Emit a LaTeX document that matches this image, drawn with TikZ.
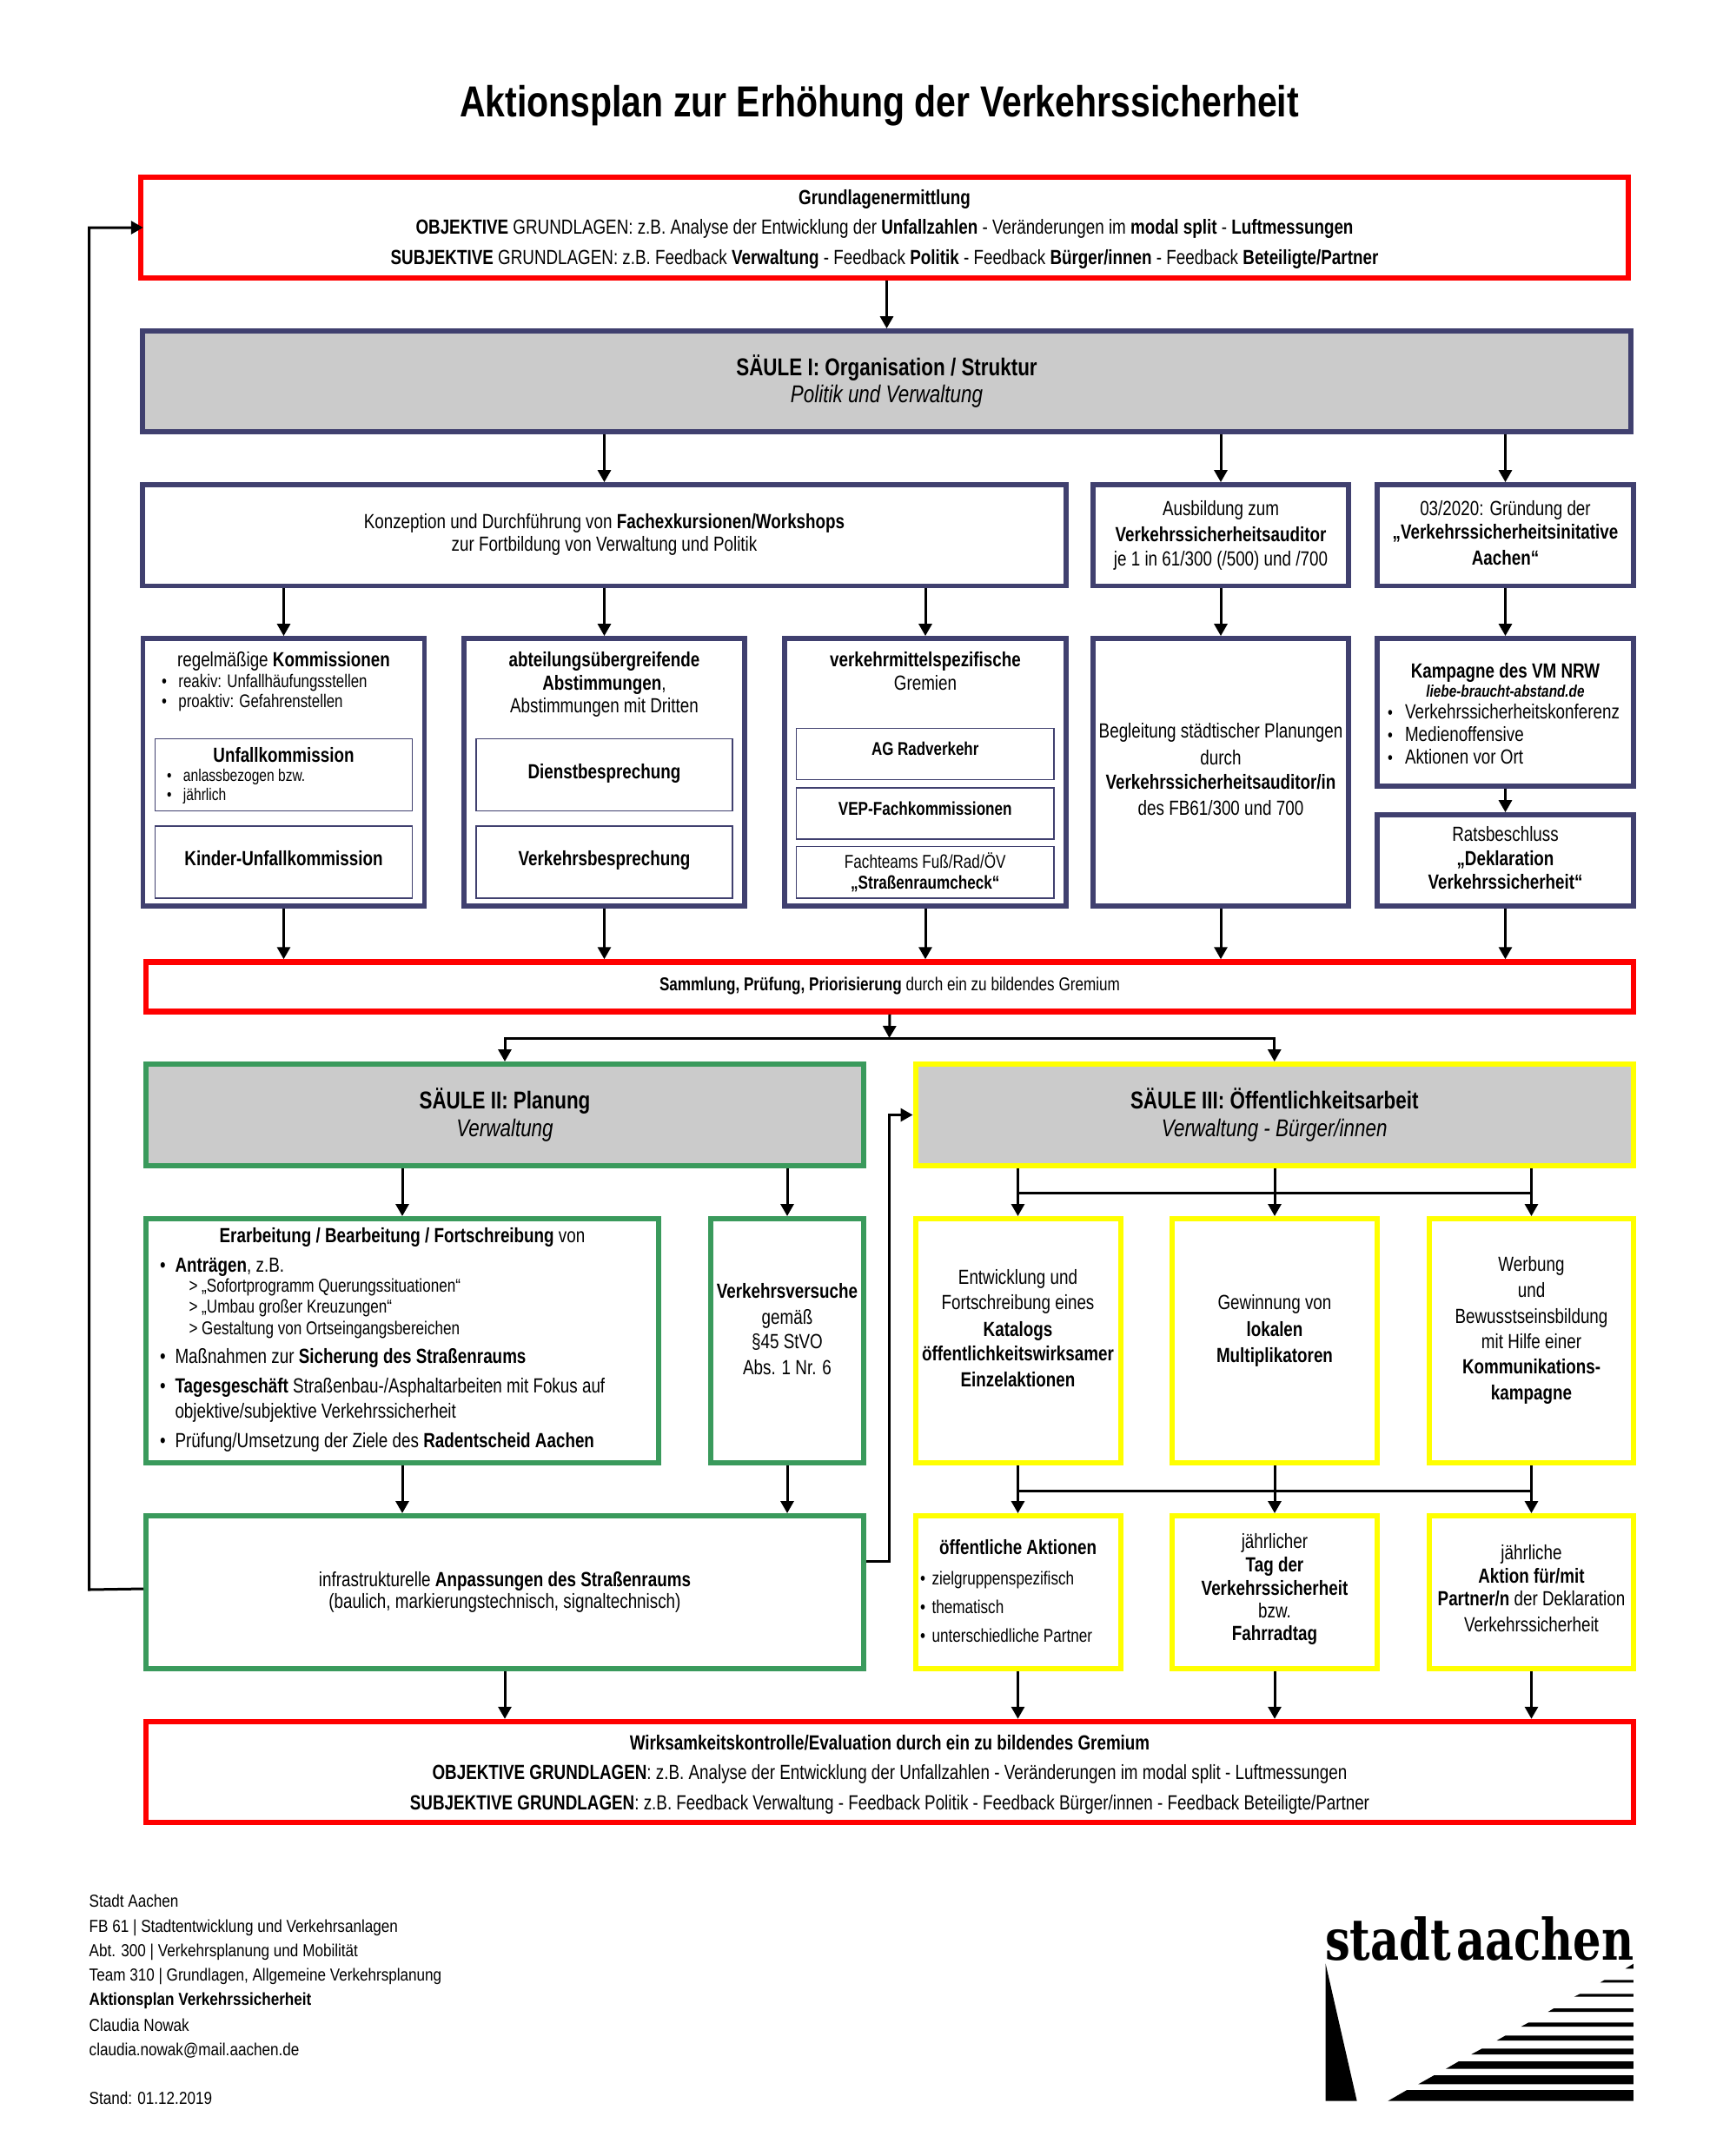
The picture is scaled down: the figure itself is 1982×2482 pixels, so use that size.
\documentclass[tikz,border=0pt]{standalone}
\usepackage{fontspec}
\usepackage{graphicx}
\usetikzlibrary{arrows.meta,calc}
\setmainfont[FakeStretch=0.80]{Liberation Sans}
\newfontfamily\titlefont[FakeStretch=0.82]{Liberation Sans}
\newfontfamily\footfont[FakeStretch=0.855]{Liberation Sans}
\newfontfamily\logofont{DejaVu Serif}
\definecolor{cnavy}{HTML}{40406F}
\definecolor{cgreen}{HTML}{3A9A5C}
\definecolor{cyell}{HTML}{FFFF00}
\definecolor{cred}{HTML}{FF0000}
\definecolor{cgrey}{HTML}{CBCBCB}
\newcommand\szf[1]{\fontsize{#1}{#1}\selectfont}
\newcommand\sz[1]{\pgfmathsetlengthmacro\fsq{#1*1.07}\fontsize{\fsq}{\fsq}\selectfont}
\newcommand\B[1]{\textbf{#1}}
% box with centre remembered, text lines placed by absolute baseline
\newcommand\bx[7]{%
  \pgfmathsetlengthmacro\bw{#5-#3}\pgfmathsetlengthmacro\bh{#6-#4}%
  \pgfmathsetmacro\bcx{(#3+#5)/2}\pgfmathsetmacro\bcy{(#4+#6)/2}%
  \node[#1,minimum width=\bw,minimum height=\bh] (#2) at (\bcx,\bcy) {#7};}
% centred line at baseline y
\newcommand\Cx[2]{\pgfmathsetlengthmacro\rr{\bcy-#1+0.7}\makebox[0pt][c]{\raisebox{\rr}[0pt][0pt]{#2}}\ignorespaces}
% left line at absolute x and baseline y
\newcommand\Lx[3]{\pgfmathsetlengthmacro\rr{\bcy-#2+0.7}\pgfmathsetlengthmacro\qq{#1-\bcx}\makebox[0pt][l]{\hspace*{\qq}\raisebox{\rr}[0pt][0pt]{#3}}\ignorespaces}
\tikzset{
  boxbase/.style={draw,rectangle,inner sep=0pt,font=\sz{22},text=black},
  redbox/.style={boxbase,draw=cred,line width=6.5pt,fill=white},
  navybox/.style={boxbase,draw=cnavy,line width=5.8pt,fill=white},
  greenbox/.style={boxbase,draw=cgreen,line width=6pt,fill=white},
  yellbox/.style={boxbase,draw=cyell,line width=6pt,fill=white},
  thinbox/.style={boxbase,draw=cnavy,line width=1.6pt,fill=white},
  greyfill/.style={fill=cgrey},
  arr/.style={draw=black,line width=3pt,-{Triangle[width=15pt,length=14pt]}},
  plain/.style={draw=black,line width=3pt},
  textonly/.style={inner sep=0pt,anchor=base west,font=\footfont\szf{20}},
}
\begin{document}
\begin{tikzpicture}[x=1pt,y=-1pt]
\useasboundingbox (0,0) rectangle (1982,2482);
\fill[white] (0,0) rectangle (1982,2482);

\node[inner sep=0pt,anchor=base,font=\titlefont\szf{50}\bfseries] (title) at (1012,134.5) {Aktionsplan zur Erhöhung der Verkehrssicherheit};

\bx{redbox}{grund}{162}{204}{1874}{320}{%
 \Cx{236}{\B{Grundlagenermittlung}}
 \Cx{270}{\B{OBJEKTIVE} GRUNDLAGEN: z.B. Analyse der Entwicklung der \B{Unfallzahlen} - Veränderungen im \B{modal split} - \B{Luftmessungen}}
 \Cx{305}{\B{SUBJEKTIVE} GRUNDLAGEN: z.B. Feedback \B{Verwaltung} - Feedback \B{Politik} - Feedback \B{Bürger/innen} - Feedback \B{Beteiligte/Partner}}
}
\bx{navybox,greyfill}{saeulea}{164}{381}{1877}{497}{%
 \Cx{433}{\sz{26.2}\B{SÄULE I: Organisation / Struktur}}
 \Cx{464}{\sz{26.2}\textit{Politik und Verwaltung}}
}
\bx{navybox}{konz}{164}{558}{1227}{674.5}{%
 \Cx{609}{Konzeption und Durchführung von \B{Fachexkursionen/Workshops}}
 \Cx{635}{zur Fortbildung von Verwaltung und Politik}
}
\bx{navybox}{ausb}{1258}{558}{1552}{674.5}{%
 \Cx{594}{Ausbildung zum}
 \Cx{624}{\B{Verkehrssicherheitsauditor}}
 \Cx{652.5}{je 1 in 61/300 (/500) und /700}
}
\bx{navybox}{grue}{1585}{558}{1880}{674.5}{%
 \Cx{594}{03/2020: Gründung der}
 \Cx{621}{\B{„Verkehrssicherheitsinitative}}
 \Cx{651}{\B{Aachen“}}
}
\bx{navybox}{regel}{164.5}{735}{488.5}{1043}{%
 \Cx{768}{regelmäßige \B{Kommissionen}}
 \Lx{186}{792.5}{\sz{19.7}•}\Lx{205.5}{792.5}{\sz{19.7}reakiv: Unfallhäufungsstellen}
 \Lx{186}{815.5}{\sz{19.7}•}\Lx{205.5}{815.5}{\sz{19.7}proaktiv: Gefahrenstellen}
}
\bx{navybox}{abtl}{534}{735}{857}{1043}{%
 \Cx{768}{\B{abteilungsübergreifende}}
 \Cx{795}{\B{Abstimmungen},}
 \Cx{821}{Abstimmungen mit Dritten}
}
\bx{navybox}{vkm}{903}{735}{1227}{1043}{%
 \Cx{768}{\B{verkehrmittelspezifische}}
 \Cx{795}{Gremien}
}
\bx{navybox}{begl}{1258}{735}{1552}{1043}{%
 \Cx{850.5}{Begleitung städtischer Planungen}
 \Cx{881}{durch}
 \Cx{909.5}{\B{Verkehrssicherheitsauditor/in}}
 \Cx{939.5}{des FB61/300 und 700}
}
\bx{navybox}{kamp}{1585}{735}{1880}{905}{%
 \Cx{781}{\B{Kampagne des VM NRW}}
 \Cx{803.5}{\sz{17.9}\textbf{\textit{liebe-braucht-abstand.de}}}
 \Lx{1597}{828.5}{\sz{19.5}•}\Lx{1617}{828.5}{Verkehrssicherheitskonferenz}
 \Lx{1597}{854.5}{\sz{19.5}•}\Lx{1617}{854.5}{Medienoffensive}
 \Lx{1597}{880}{\sz{19.5}•}\Lx{1617}{880}{Aktionen vor Ort}
}
\bx{navybox}{rats}{1585}{938}{1880}{1043}{%
 \Cx{969}{Ratsbeschluss}
 \Cx{997}{\B{„Deklaration}}
 \Cx{1024}{\B{Verkehrssicherheit“}}
}
\bx{thinbox}{unfk}{178.5}{850.5}{474.5}{933.5}{%
 \Cx{878}{\B{Unfallkommission}}
 \Lx{192}{900}{\sz{18.2}•}\Lx{211}{900}{\sz{18.2}anlassbezogen bzw.}
 \Lx{192}{922}{\sz{18.2}•}\Lx{211}{922}{\sz{18.2}jährlich}
}
\bx{thinbox}{kind}{178.5}{951}{474.5}{1034}{\Cx{997}{\B{Kinder-Unfallkommission}}}
\bx{thinbox}{dien}{548}{850.5}{843}{933.5}{\Cx{897}{\B{Dienstbesprechung}}}
\bx{thinbox}{vbes}{548}{951}{843}{1034}{\Cx{997}{\B{Verkehrsbesprechung}}}
\bx{thinbox}{agrv}{916.5}{838.5}{1213}{897.5}{\Cx{870.5}{\sz{19.8}\B{AG Radverkehr}}}
\bx{thinbox}{vepf}{916.5}{907}{1213}{966}{\Cx{939.5}{\sz{20}\B{VEP-Fachkommissionen}}}
\bx{thinbox}{fach}{916.5}{974.5}{1213}{1034}{%
 \Cx{1000}{\sz{20}Fachteams Fuß/Rad/ÖV}
 \Cx{1024}{\sz{20}\B{„Straßenraumcheck“}}
}
\bx{redbox}{samm}{168}{1107.5}{1880}{1164.5}{%
 \Cx{1141.5}{\sz{20}\B{Sammlung, Prüfung, Priorisierung} durch ein zu bildendes Gremium}
}
\bx{greenbox,greyfill}{saeuleb}{168}{1225}{994}{1342}{%
 \Cx{1277.5}{\sz{26.2}\B{SÄULE II: Planung}}
 \Cx{1309}{\sz{26.2}\textit{Verwaltung}}
}
\bx{yellbox,greyfill}{saeulec}{1053.5}{1225}{1880}{1342}{%
 \Cx{1277.5}{\sz{26.2}\B{SÄULE III: Öffentlichkeitsarbeit}}
 \Cx{1309}{\sz{26.2}\textit{Verwaltung - Bürger/innen}}
}
\bx{greenbox}{erar}{168}{1403}{758}{1684}{%
 \Cx{1431.5}{\B{Erarbeitung / Bearbeitung / Fortschreibung} von}
 \Lx{184}{1465}{•}\Lx{201.5}{1465}{\B{Anträgen}, z.B.}
 \Lx{217.5}{1488.5}{\sz{20}> „Sofortprogramm Querungssituationen“}
 \Lx{217.5}{1512.5}{\sz{20}> „Umbau großer Kreuzungen“}
 \Lx{217.5}{1537}{\sz{20}> Gestaltung von Ortseingangsbereichen}
 \Lx{184}{1570}{•}\Lx{201.5}{1570}{Maßnahmen zur \B{Sicherung des Straßenraums}}
 \Lx{184}{1604}{•}\Lx{201.5}{1604}{\B{Tagesgeschäft} Straßenbau-/Asphaltarbeiten mit Fokus auf}
 \Lx{201.5}{1633}{objektive/subjektive Verkehrssicherheit}
 \Lx{184}{1667.5}{•}\Lx{201.5}{1667.5}{Prüfung/Umsetzung der Ziele des \B{Radentscheid Aachen}}
}
\bx{greenbox}{vers}{818}{1403}{994}{1684}{%
 \Cx{1495}{\B{Verkehrsversuche}}
 \Cx{1525}{gemäß}
 \Cx{1553.5}{§45 StVO}
 \Cx{1583.5}{Abs. 1 Nr. 6}
}
\bx{yellbox}{enta}{1053.5}{1403}{1289.5}{1684}{%
 \Cx{1479}{Entwicklung und}
 \Cx{1508.5}{Fortschreibung eines}
 \Cx{1539}{\B{Katalogs}}
 \Cx{1567.5}{\B{öffentlichkeitswirksamer}}
 \Cx{1597}{\B{Einzelaktionen}}
}
\bx{yellbox}{gewi}{1349}{1403}{1585}{1684}{%
 \Cx{1508.5}{Gewinnung von}
 \Cx{1539}{\B{lokalen}}
 \Cx{1569}{\B{Multiplikatoren}}
}
\bx{yellbox}{werb}{1645}{1403}{1880}{1684}{%
 \Cx{1464.5}{Werbung}
 \Cx{1494}{und}
 \Cx{1524}{Bewusstseinsbildung}
 \Cx{1553}{mit Hilfe einer}
 \Cx{1582}{\B{Kommunikations-}}
 \Cx{1612}{\B{kampagne}}
}
\bx{greenbox}{infr}{168}{1745}{994}{1921}{%
 \Cx{1827}{infrastrukturelle \B{Anpassungen des Straßenraums}}
 \Cx{1852.5}{(baulich, markierungstechnisch, signaltechnisch)}
}
\bx{yellbox}{oeff}{1053.5}{1745}{1289.5}{1921}{%
 \Cx{1790.5}{\B{öffentliche Aktionen}}
 \Lx{1059}{1825}{\sz{20}•}\Lx{1072.5}{1825}{\sz{20}zielgruppenspezifisch}
 \Lx{1059}{1858}{\sz{20}•}\Lx{1072.5}{1858}{\sz{20}thematisch}
 \Lx{1059}{1891}{\sz{20}•}\Lx{1072.5}{1891}{\sz{20}unterschiedliche Partner}
}
\bx{yellbox}{tagv}{1349}{1745}{1585}{1921}{%
 \Cx{1783}{jährlicher}
 \Cx{1810}{\B{Tag der}}
 \Cx{1837}{\B{Verkehrssicherheit}}
 \Cx{1863}{bzw.}
 \Cx{1889}{\B{Fahrradtag}}
}
\bx{yellbox}{aktn}{1645}{1745}{1880}{1921}{%
 \Cx{1796}{jährliche}
 \Cx{1823}{\B{Aktion für/mit}}
 \Cx{1849}{\B{Partner/n} der Deklaration}
 \Cx{1879}{Verkehrssicherheit}
}
\bx{redbox}{wirk}{168}{1982}{1880}{2098}{%
 \Cx{2015}{\B{Wirksamkeitskontrolle/Evaluation durch ein zu bildendes Gremium}}
 \Cx{2049}{\B{OBJEKTIVE GRUNDLAGEN}: z.B. Analyse der Entwicklung der Unfallzahlen - Veränderungen im modal split - Luftmessungen}
 \Cx{2084}{\B{SUBJEKTIVE GRUNDLAGEN}: z.B. Feedback Verwaltung - Feedback Politik - Feedback Bürger/innen - Feedback Beteiligte/Partner}
}

% connectors
\draw[arr] (saeulea.north |- grund.south) -- (saeulea.north);
\foreach \t in {konz,ausb,grue} \draw[arr] (\t.north |- saeulea.south) -- (\t.north);
\foreach \t in {regel,abtl,vkm} \draw[arr] (\t.north |- konz.south) -- (\t.north);
\draw[arr] (ausb.south) -- (begl.north);
\draw[arr] (grue.south) -- (kamp.north);
\draw[arr] (kamp.south) -- (rats.north);
\foreach \t in {regel,abtl,vkm,begl,rats} \draw[arr] (\t.south) -- (\t.south |- samm.north);

\coordinate (split) at (1023.5,1195);
\draw[arr] (samm.south) -- (split);
\draw[arr] (split) -| (saeuleb.north);
\draw[arr] (split) -| (saeulec.north);

\foreach \t in {erar,vers} {
  \draw[arr] (\t.north |- saeuleb.south) -- (\t.north);
  \draw[arr] (\t.south) -- (\t.south |- infr.north);
}
\coordinate (busa) at (0,1373);
\coordinate (busb) at (0,1716);
\foreach \t in {enta,gewi,werb} \draw[arr] (\t.north |- saeulec.south) -- (\t.north);
\draw[plain] (enta.north |- busa) -- (werb.north |- busa);
\draw[arr] (enta.south) -- (oeff.north);
\draw[arr] (gewi.south) -- (tagv.north);
\draw[arr] (werb.south) -- (aktn.north);
\draw[plain] (enta.south |- busb) -- (werb.south |- busb);

\draw[arr] (infr.south) -- (infr.south |- wirk.north);
\foreach \t in {oeff,tagv,aktn} \draw[arr] (\t.south) -- (\t.south |- wirk.north);

\coordinate (fba) at (102.5,1830);
\draw[arr,shorten >=-6pt] (infr.west |- 0,1829) -- (fba) |- (grund.west);
\coordinate (fbb) at (1023.5,1797);
\draw[arr] (fbb -| infr.east) -- (fbb) |- (saeulec.west);

% footer
\node[textonly] (fa) at (102.5,2195) {Stadt Aachen};
\node[textonly] (fb) at (102.5,2224) {FB 61 | Stadtentwicklung und Verkehrsanlagen};
\node[textonly] (fc) at (102.5,2252) {Abt. 300 | Verkehrsplanung und Mobilität};
\node[textonly] (fd) at (102.5,2280) {Team 310 | Grundlagen, Allgemeine Verkehrsplanung};
\node[textonly] (fe) at (102.5,2308.5) {\textbf{Aktionsplan Verkehrssicherheit}};
\node[textonly] (ff) at (102.5,2338) {Claudia Nowak};
\node[textonly] (fg) at (102.5,2366) {claudia.nowak@mail.aachen.de};
\node[textonly] (fh) at (102.5,2422.5) {Stand: 01.12.2019};

% logo
\node[inner sep=0pt,anchor=base west] (logo) at (1525,2256) {\resizebox{355pt}{50pt}{\logofont\bfseries stadt\hspace{0.12em}aachen}};
\begin{scope}[shift={(1480,2170)},x=0.3333pt,y=-0.3333pt]
 \fill[black] (137,272) -- (245,746) -- (137,746) -- cycle;
 \fill[black] (352,746) -- (418,708) -- (1200,708) -- (1200,746) -- cycle;
 \fill[black] (457,688) -- (512,657) -- (1200,657) -- (1200,688) -- cycle;
 \fill[black] (552,635) -- (597,609) -- (1200,609) -- (1200,635) -- cycle;
 \fill[black] (640,585) -- (677,565) -- (1200,565) -- (1200,585) -- cycle;
 \fill[black] (728,537) -- (758,520) -- (1200,520) -- (1200,537) -- cycle;
 \fill[black] (812,489) -- (838,475) -- (1200,475) -- (1200,489) -- cycle;
 \fill[black] (905,438) -- (925,426) -- (1200,426) -- (1200,438) -- cycle;
 \fill[black] (995,386) -- (1015,376) -- (1200,376) -- (1200,386) -- cycle;
 \fill[black] (1085,337) -- (1100,328) -- (1200,328) -- (1200,337) -- cycle;
 \fill[black] (1172,289) -- (1200,272) -- (1200,289) -- cycle;
\end{scope}
\end{tikzpicture}
\end{document}
